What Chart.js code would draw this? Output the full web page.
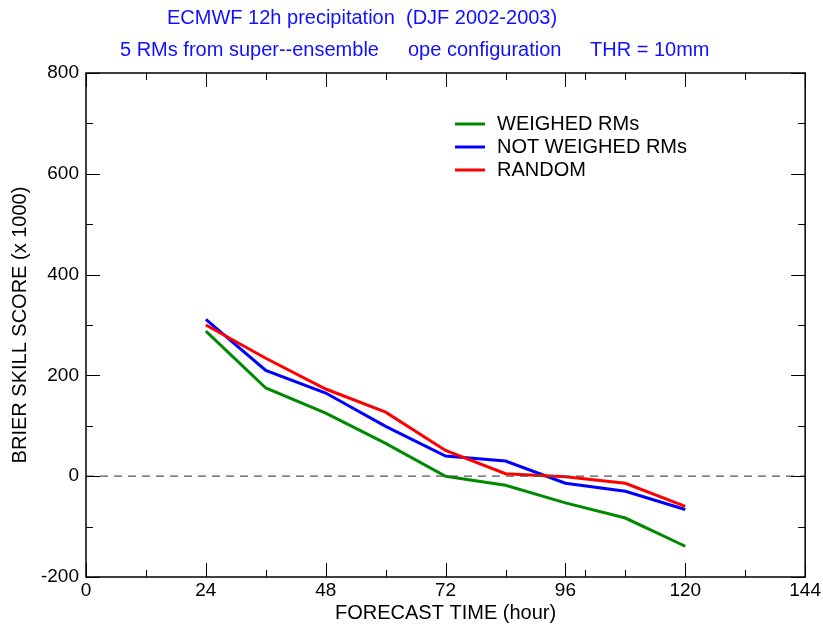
<!DOCTYPE html>
<html>
<head>
<meta charset="utf-8">
<script src="https://cdn.jsdelivr.net/npm/chart.js@4.4.1/dist/chart.umd.min.js"></script>
<style>
  html, body { margin: 0; padding: 0; background: #fff; }
  #wrap { width: 823px; height: 626px; position: relative; }
</style>
</head>
<body>
<div id="wrap"><canvas id="c"></canvas></div>
<script>
// Brier skill score vs forecast time, three ensemble-selection variants.

const hours = [24, 36, 48, 60, 72, 84, 96, 108, 120];
const weighed = [288, 175, 125, 65, 0, -18, -53, -83, -139];
const notWeighed = [311, 210, 165, 99, 40, 30, -14, -30, -66];
const random = [300, 234, 173, 127, 51, 5, -1, -14, -60];

const xMajorTicks = [0, 24, 48, 72, 96, 120, 144];
const xMinorTicks = [12, 36, 60, 84, 100, 108, 132];
const yMajorTicks = [-200, 0, 200, 400, 600, 800];
const yMinorTicks = [-100, 100, 300, 500, 700];

const titleLine1 = 'ECMWF 12h precipitation  (DJF 2002-2003)';
const titleLine2 = ['5 RMs from super--ensemble', 'ope configuration', 'THR = 10mm'];

const FONT = '"Liberation Sans", Arial, Helvetica, sans-serif';
const pts = (ys) => hours.map((h, i) => ({ x: h, y: ys[i] }));

// frame + inward ticks on all four sides, like the original plotting package
const frameTicksPlugin = {
  id: 'frame-ticks',
  afterDatasetsDraw(chart) {
    const { ctx, chartArea: a, scales } = chart;
    ctx.save();
    ctx.strokeStyle = '#000';
    ctx.lineWidth = 1.5;
    ctx.strokeRect(a.left, a.top, a.right - a.left, a.bottom - a.top);
    ctx.lineWidth = 1;
    ctx.beginPath();
    const xt = (v, len) => {
      const px = Math.round(scales.x.getPixelForValue(v)) + 0.5;
      ctx.moveTo(px, a.bottom); ctx.lineTo(px, a.bottom - len);
      ctx.moveTo(px, a.top); ctx.lineTo(px, a.top + len);
    };
    const yt = (v, len) => {
      const py = Math.round(scales.y.getPixelForValue(v)) + 0.5;
      ctx.moveTo(a.left, py); ctx.lineTo(a.left + len, py);
      ctx.moveTo(a.right, py); ctx.lineTo(a.right - len, py);
    };
    xMajorTicks.forEach(v => xt(v, 14));
    xMinorTicks.forEach(v => xt(v, 7));
    yMajorTicks.forEach(v => yt(v, 14));
    yMinorTicks.forEach(v => yt(v, 7));
    ctx.stroke();
    ctx.restore();
  },
};

const headerPlugin = {
  id: 'header',
  afterDraw(chart) {
    const ctx = chart.ctx;
    ctx.save();
    ctx.fillStyle = '#1010ff';
    ctx.font = '20px ' + FONT;
    ctx.textBaseline = 'middle';
    ctx.textAlign = 'left';
    ctx.fillText(titleLine1, 167, 18);
    const xs = [120, 408, 590];
    titleLine2.forEach((t, i) => ctx.fillText(t, xs[i], 50));
    ctx.restore();
  },
};

const legendPlugin = {
  id: 'inner-legend',
  afterDraw(chart) {
    const ctx = chart.ctx;
    ctx.save();
    ctx.font = '20px ' + FONT;
    ctx.textBaseline = 'middle';
    ctx.fillStyle = '#000';
    let y = 124;
    for (const ds of chart.data.datasets) {
      if (!ds.inLegend) continue;
      ctx.strokeStyle = ds.borderColor;
      ctx.lineWidth = 3;
      ctx.beginPath();
      ctx.moveTo(455, y); ctx.lineTo(485, y);
      ctx.stroke();
      ctx.fillText(ds.label, 497, y);
      y += 23;
    }
    ctx.restore();
  },
};

new Chart(document.getElementById('c'), {
  type: 'line',
  data: {
    datasets: [
      { label: 'WEIGHED RMs', data: pts(weighed), borderColor: '#008a00', inLegend: true, order: 3 },
      { label: 'NOT WEIGHED RMs', data: pts(notWeighed), borderColor: '#0000ff', inLegend: true, order: 2 },
      { label: 'RANDOM', data: pts(random), borderColor: '#ff0000', inLegend: true, order: 1 },
      { label: 'zero', data: [{ x: 0, y: 0 }, { x: 144, y: 0 }], borderColor: '#555',
        borderWidth: 1.3, borderDash: [8, 6], order: 0 },
    ].map(d => ({ borderWidth: 3, pointRadius: 0, fill: false, tension: 0, ...d })),
  },
  options: {
    responsive: true, maintainAspectRatio: false, animation: false,
    layout: { padding: { top: 73, right: 17, left: 0, bottom: 0 } },
    scales: {
      x: {
        type: 'linear', min: 0, max: 144,
        afterBuildTicks: s => { s.ticks = xMajorTicks.map(v => ({ value: v })); },
        afterFit: s => { s.height = 49; },
        grid: { display: false, drawTicks: false },
        border: { display: false },
        ticks: { color: '#000', font: { family: FONT, size: 19 }, padding: 2, maxRotation: 0 },
        title: { display: true, text: 'FORECAST TIME (hour)', color: '#000',
                 font: { family: FONT, size: 20 }, padding: { top: 0, bottom: 1 } },
      },
      y: {
        type: 'linear', min: -200, max: 800,
        afterBuildTicks: s => { s.ticks = yMajorTicks.map(v => ({ value: v })); },
        afterFit: s => { s.width = 86; },
        grid: { display: false, drawTicks: false },
        border: { display: false },
        ticks: { color: '#000', font: { family: FONT, size: 19 }, padding: 7 },
        title: { display: true, text: 'BRIER SKILL SCORE (x 1000)', color: '#000',
                 font: { family: FONT, size: 20 }, padding: { top: 8, bottom: 0 } },
      },
    },
    plugins: { legend: { display: false }, tooltip: { enabled: false }, title: { display: false } },
  },
  plugins: [frameTicksPlugin, headerPlugin, legendPlugin],
});
</script>
</body>
</html>
